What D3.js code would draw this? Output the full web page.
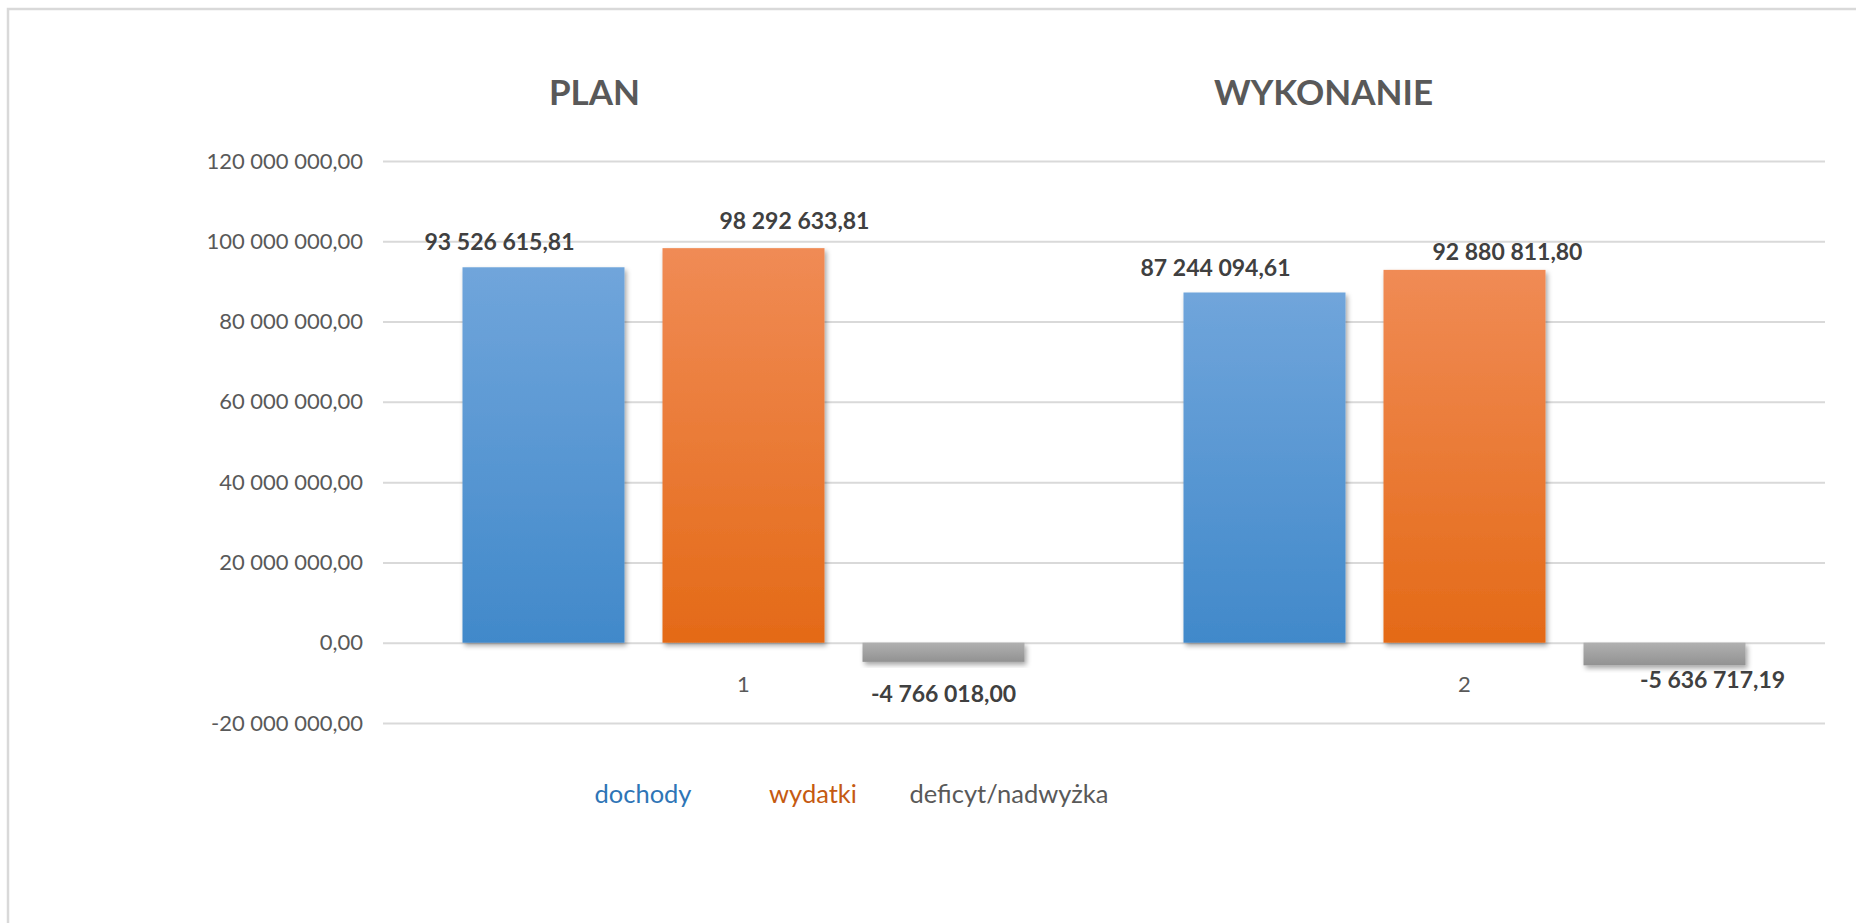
<!DOCTYPE html>
<html>
<head>
<meta charset="utf-8">
<script src="https://cdn.jsdelivr.net/npm/d3@7"></script>
<style>
  html, body { margin: 0; padding: 0; background: #fff; }
  svg { display: block; font-family: Lato, "Open Sans", sans-serif; }
</style>
</head>
<body>
<div id="chart"></div>
<script>
// data
const categories = ["1", "2"];
const titles = ["PLAN", "WYKONANIE"];
const series = ["dochody", "wydatki", "deficyt/nadwyżka"];
const dochody = [93526615.81, 87244094.61];
const wydatki = [98292633.81, 92880811.80];
const deficyt = [-4766018.00, -5636717.19];
const yTicks = [-20000000, 0, 20000000, 40000000, 60000000, 80000000, 100000000, 120000000];

const width = 1856, height = 923;
const margin = { top: 161, right: 31, bottom: 200, left: 383 };

const svg = d3.select('#chart').append('svg')
    .attr('width', width)
    .attr('height', height);

// colours for each series: gradient top, gradient bottom, legend text
const palette = [
  { top: '#70a5db', bottom: '#4189ca', text: '#2e75b6' },
  { top: '#f08b55', bottom: '#e46a17', text: '#c55a11' },
  { top: '#b0b0b0', bottom: '#929292', text: '#595959' }
];

const defs = svg.append('defs');
palette.forEach((p, i) => {
  const g = defs.append('linearGradient')
      .attr('id', 'grad' + i)
      .attr('x1', 0).attr('y1', 0).attr('x2', 0).attr('y2', 1);
  g.append('stop').attr('offset', '0%').attr('stop-color', p.top);
  g.append('stop').attr('offset', '100%').attr('stop-color', p.bottom);
});
defs.append('filter')
    .attr('id', 'shadow')
    .attr('x', '-10%').attr('y', '-10%').attr('width', '130%').attr('height', '140%')
  .append('feDropShadow')
    .attr('dx', 2).attr('dy', 3)
    .attr('stdDeviation', 2.5)
    .attr('flood-color', '#000')
    .attr('flood-opacity', 0.35);

// frame of the chart area
svg.append('path')
    .attr('d', `M8,${height + 5} V9 H${width + 5}`)
    .attr('fill', 'none')
    .attr('stroke', '#d9d9d9')
    .attr('stroke-width', 2.5);

const x0 = d3.scaleBand()
    .domain(categories)
    .range([margin.left, width - margin.right])
    .paddingInner(0.2205)
    .paddingOuter(0.11025);

const x1 = d3.scaleBand()
    .domain(series)
    .range([0, x0.bandwidth()])
    .paddingInner(0.19);

const y = d3.scaleLinear()
    .domain([-20000000, 120000000])
    .range([height - margin.bottom, margin.top]);

// polish style: space thousands, comma decimals, plain hyphen minus
const fmt = (v) => {
  const s = d3.format(',.2f')(v);
  return s.replace(/,/g, ' ').replace('.', ',').replace('\u2212', '-');
};

// gridlines + y labels
const yAxis = d3.axisLeft(y)
    .tickValues(yTicks)
    .tickSize(-(width - margin.right - margin.left))
    .tickPadding(20)
    .tickFormat(fmt);

const yg = svg.append('g')
    .attr('transform', `translate(${margin.left},0)`)
    .call(yAxis);
yg.select('.domain').remove();
yg.selectAll('.tick line')
    .attr('stroke', '#d9d9d9')
    .attr('stroke-width', 2);
yg.selectAll('.tick text')
    .attr('fill', '#595959')
    .attr('font-size', 22)
    .attr('font-family', 'Lato, sans-serif');

// category labels
svg.append('g').selectAll('text')
    .data(categories)
    .join('text')
    .attr('x', d => x0(d) + x0.bandwidth() / 2)
    .attr('y', y(0) + 49)
    .attr('text-anchor', 'middle')
    .attr('fill', '#595959')
    .attr('font-size', 22)
    .text(d => d);

// group titles
svg.append('g').selectAll('text')
    .data(titles)
    .join('text')
    .attr('x', (d, i) => x0(categories[i]) + [-149, -141][i] + x0.bandwidth() / 2)
    .attr('y', 105)
    .attr('text-anchor', 'middle')
    .attr('fill', '#595959')
    .attr('font-size', 35)
    .attr('font-weight', 'bold')
    .text(d => d);

const rows = categories.map((c, i) => ({
  cat: c,
  values: [dochody[i], wydatki[i], deficyt[i]]
}));

// label nudges (Excel labels were dragged by hand)
const labelDx = [[-44, 51, 0], [-49, 43, 48]];
const labelDy = [[-17, -19, 40], [-16, -10, 23]];

const groups = svg.append('g').selectAll('g')
    .data(rows)
    .join('g')
    .attr('transform', d => `translate(${x0(d.cat)},0)`);

groups.selectAll('rect')
    .data(d => d.values.map((v, j) => ({ v, s: series[j], j })))
    .join('rect')
    .attr('x', d => x1(d.s))
    .attr('y', d => y(Math.max(0, d.v)))
    .attr('width', x1.bandwidth())
    .attr('height', d => Math.abs(y(d.v) - y(0)))
    .attr('fill', d => `url(#grad${d.j})`)
    .attr('filter', 'url(#shadow)');

groups.each(function(row, i) {
  d3.select(this).selectAll('text.lbl')
    .data(row.values.map((v, j) => ({ v, s: series[j], j })))
    .join('text')
    .attr('class', 'lbl')
    .attr('x', d => x1(d.s) + x1.bandwidth() / 2 + labelDx[i][d.j])
    .attr('y', d => y(d.v) + labelDy[i][d.j])
    .attr('text-anchor', 'middle')
    .attr('fill', '#404040')
    .attr('font-size', 23)
    .attr('font-weight', 'bold')
    .text(d => fmt(d.v));
});

// legend (text only)
const legendX = [643, 813, 1009];
svg.append('g').selectAll('text')
    .data(series)
    .join('text')
    .attr('x', (d, i) => legendX[i])
    .attr('y', 803)
    .attr('text-anchor', 'middle')
    .attr('fill', (d, i) => palette[i].text)
    .attr('font-size', 25.5)
    .text(d => d);
</script>
</body>
</html>
